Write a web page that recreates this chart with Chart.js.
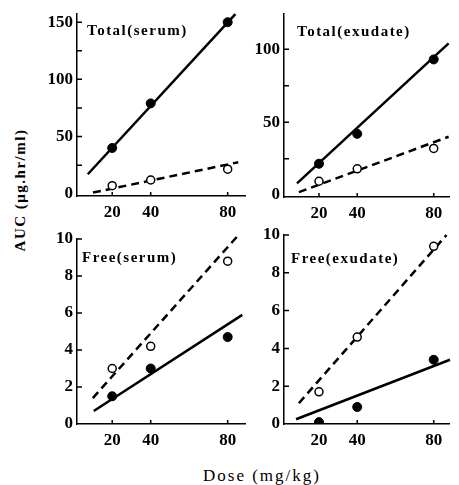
<!DOCTYPE html>
<html>
<head>
<meta charset="utf-8">
<script src="https://cdn.jsdelivr.net/npm/chart.js@4.4.0/dist/chart.umd.min.js"></script>
<style>
  html, body { margin: 0; padding: 0; background: #fff; }
  #wrap { position: relative; width: 459px; height: 485px; overflow: hidden; }
  #wrap canvas { position: absolute; left: 0; top: 0; }
  .ytitle {
    position: absolute; left: 20px; top: 190px;
    transform: translate(-50%, -50%) rotate(-90deg);
    font: bold 15px "Liberation Serif"; letter-spacing: 1.5px; white-space: nowrap;
  }
  .xtitle {
    position: absolute; left: 262px; top: 476px;
    transform: translate(-50%, -50%);
    font: 17px "Liberation Serif"; letter-spacing: 2px; white-space: nowrap;
  }
</style>
</head>
<body>
<div id="wrap">
  <div class="ytitle">AUC (μg.hr/ml)</div>
  <div class="xtitle">Dose (mg/kg)</div>
</div>
<script>
// Data
const doses = [20, 40, 80];

const totalSerumClosed = [40, 79, 150];
const totalSerumOpen = [7, 12, 21.5];
const totalExudateClosed = [21.5, 42, 93];
const totalExudateOpen = [9.5, 18, 32];
const freeSerumClosed = [1.5, 3.0, 4.7];
const freeSerumOpen = [3.0, 4.2, 8.8];
const freeExudateClosed = [0.1, 0.9, 3.4];
const freeExudateOpen = [1.7, 4.6, 9.4];

// Fitted lines: start/end dose and matching values
const totalSerumSolidX = [7.3, 84], totalSerumSolidY = [17, 157];
const totalSerumDashX = [10, 85.5], totalSerumDashY = [1, 27.5];
const totalExudateSolidX = [8.5, 87.8], totalExudateSolidY = [8, 104];
const totalExudateDashX = [9.5, 87.8], totalExudateDashY = [2, 40];
const freeSerumSolidX = [10.4, 87.6], freeSerumSolidY = [0.7, 5.9];
const freeSerumDashX = [9.9, 85.5], freeSerumDashY = [1.4, 10.2];
const freeExudateSolidX = [8, 88.5], freeExudateSolidY = [0.25, 3.4];
const freeExudateDashX = [9.5, 86.7], freeExudateDashY = [1.1, 10];

// Tick values
const xTicks = [20, 40, 80];
const totalSerumYTicks = [0, 25, 50, 75, 100, 125, 150];
const totalExudateYTicks = [0, 25, 50, 75, 100];
const freeYTicks = [0, 2, 4, 6, 8, 10];

const wrap = document.getElementById('wrap');
const tickFont = { family: 'Liberation Serif', size: 17, weight: 'bold' };
const Y_W = 34, X_H = 30;

function pts(xs, ys) {
    return xs.map((x, i) => ({ x: x, y: ys[i] }));
}

// inward tick marks + panel label
const panelDecor = {
    id: 'panelDecor',
    afterDraw(chart, args, opts) {
        const { ctx, chartArea: a, scales: { x, y } } = chart;
        ctx.save();
        ctx.strokeStyle = '#000';
        ctx.lineWidth = 1.5;
        ctx.beginPath();
        opts.yTicks.forEach(v => {
            if (v === 0) return;
            const py = y.getPixelForValue(v);
            ctx.moveTo(a.left, py);
            ctx.lineTo(a.left + 5, py);
        });
        xTicks.forEach(v => {
            const px = x.getPixelForValue(v);
            ctx.moveTo(px, a.bottom);
            ctx.lineTo(px, a.bottom - 4);
        });
        ctx.stroke();
        ctx.font = 'bold 15px "Liberation Serif"';
        ctx.letterSpacing = '1.5px';
        ctx.fillStyle = '#000';
        ctx.textBaseline = 'alphabetic';
        ctx.fillText(opts.title, a.left + opts.dx, a.top + opts.dy);
        ctx.restore();
    }
};

function makePanel(p) {
    const canvas = document.createElement('canvas');
    canvas.width = 459;
    canvas.height = 485;
    wrap.appendChild(canvas);

    new Chart(canvas, {
        type: 'scatter',
        data: {
            datasets: [
                { data: pts(doses, p.closed), pointRadius: 4.5, backgroundColor: '#000', borderColor: '#000', borderWidth: 1, order: 0 },
                { data: pts(doses, p.open), pointRadius: 4, backgroundColor: '#fff', borderColor: '#000', borderWidth: 1.5, order: 0 },
                { data: pts(p.solidX, p.solidY), showLine: true, pointRadius: 0, borderColor: '#000', borderWidth: 2.5, clip: false, order: 1 },
                { data: pts(p.dashX, p.dashY), showLine: true, pointRadius: 0, borderColor: '#000', borderWidth: 2.5, borderDash: [8, 5], clip: false, order: 1 }
            ]
        },
        options: {
            responsive: false,
            animation: false,
            devicePixelRatio: 1,
            layout: {
                padding: {
                    left: p.area.l - Y_W,
                    top: p.area.t,
                    right: 459 - p.area.r,
                    bottom: 485 - p.area.b - X_H
                }
            },
            plugins: {
                legend: { display: false },
                tooltip: { enabled: false },
                panelDecor: { yTicks: p.yTicks, title: p.title, dx: p.dx, dy: p.dy }
            },
            scales: {
                x: {
                    type: 'linear',
                    min: p.xMin,
                    max: p.xMax,
                    afterFit(s) { s.height = X_H; },
                    afterBuildTicks(s) { s.ticks = xTicks.map(v => ({ value: v })); },
                    grid: { display: false, drawTicks: false },
                    border: { color: '#000', width: 1.5 },
                    ticks: { font: tickFont, color: '#000', padding: 6, maxRotation: 0, autoSkip: false }
                },
                y: {
                    type: 'linear',
                    min: p.yMin,
                    max: p.yMax,
                    afterFit(s) { s.width = Y_W; },
                    afterBuildTicks(s) { s.ticks = p.yTicks.map(v => ({ value: v })); },
                    grid: { display: false, drawTicks: false },
                    border: { color: '#000', width: 1.5 },
                    ticks: {
                        font: tickFont, color: '#000', padding: 4, autoSkip: false,
                        callback: v => (v % p.labelEvery === 0 ? v : '')
                    }
                }
            }
        },
        plugins: [panelDecor]
    });
}

makePanel({
    title: 'Total(serum)', dx: 10, dy: 21,
    area: { l: 77, t: 12, r: 245, b: 196 }, xMin: 1.7, xMax: 89, yMin: -2, yMax: 157,
    yTicks: totalSerumYTicks, labelEvery: 50,
    closed: totalSerumClosed, open: totalSerumOpen,
    solidX: totalSerumSolidX, solidY: totalSerumSolidY,
    dashX: totalSerumDashX, dashY: totalSerumDashY
});

makePanel({
    title: 'Total(exudate)', dx: 13, dy: 22,
    area: { l: 284, t: 10, r: 449, b: 197 }, xMin: 1.7, xMax: 88, yMin: -1.3, yMax: 124,
    yTicks: totalExudateYTicks, labelEvery: 50,
    closed: totalExudateClosed, open: totalExudateOpen,
    solidX: totalExudateSolidX, solidY: totalExudateSolidY,
    dashX: totalExudateDashX, dashY: totalExudateDashY
});

makePanel({
    title: 'Free(serum)', dx: 5, dy: 23,
    area: { l: 77, t: 239, r: 245, b: 424 }, xMin: 1.7, xMax: 89, yMin: 0, yMax: 10,
    yTicks: freeYTicks, labelEvery: 2,
    closed: freeSerumClosed, open: freeSerumOpen,
    solidX: freeSerumSolidX, solidY: freeSerumSolidY,
    dashX: freeSerumDashX, dashY: freeSerumDashY
});

makePanel({
    title: 'Free(exudate)', dx: 7, dy: 28,
    area: { l: 284, t: 235, r: 449, b: 424 }, xMin: 1.7, xMax: 88, yMin: 0, yMax: 10,
    yTicks: freeYTicks, labelEvery: 2,
    closed: freeExudateClosed, open: freeExudateOpen,
    solidX: freeExudateSolidX, solidY: freeExudateSolidY,
    dashX: freeExudateDashX, dashY: freeExudateDashY
});
</script>
</body>
</html>
